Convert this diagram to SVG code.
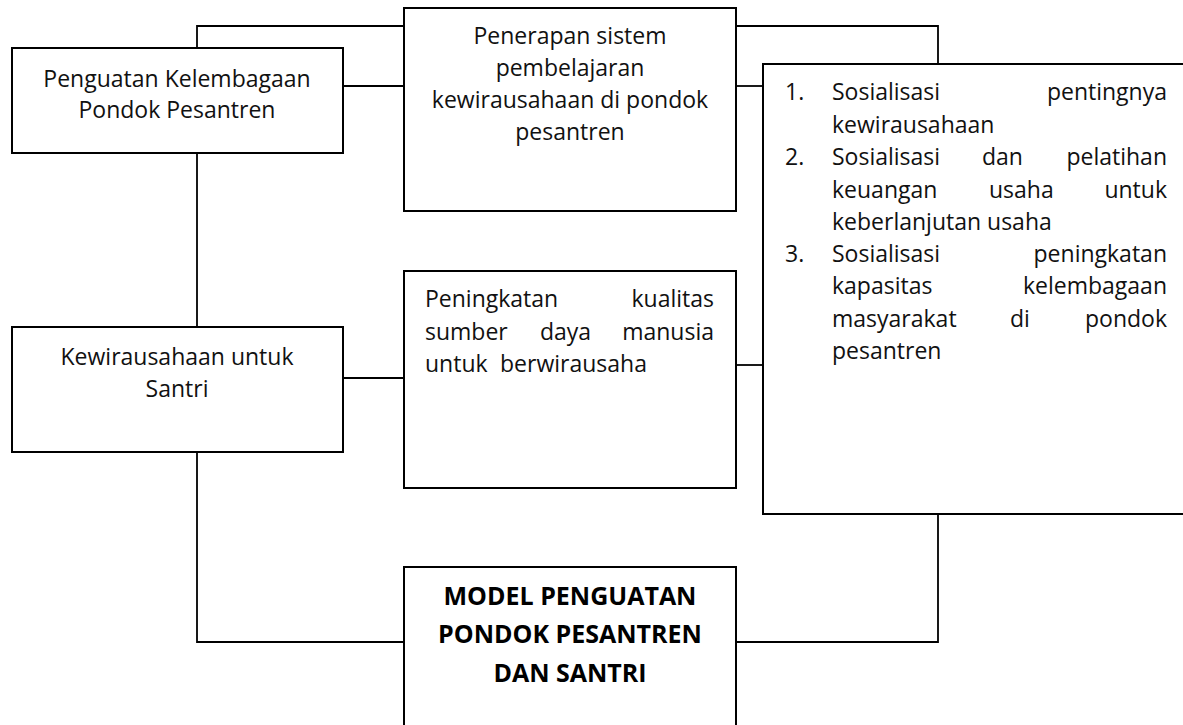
<svg xmlns="http://www.w3.org/2000/svg" width="1183" height="725" viewBox="0 0 1183 725">
<style>
  .box { fill: #ffffff; stroke: #000000; stroke-width: 2; }
  .conn { fill: none; stroke: #000000; stroke-width: 1.8; }
  .t { font-family: "Open Sans", "Noto Sans", "Liberation Sans", sans-serif; font-size: 23px; fill: #111111; }
  .c { text-anchor: middle; }
  .e { text-anchor: end; }
  .b { font-family: "Open Sans", "Noto Sans", "Liberation Sans", sans-serif; font-size: 25px; font-weight: bold; fill: #000000; text-anchor: middle; }
</style>
<rect width="1183" height="725" fill="#ffffff"/>
<g id="connectors">
  <path class="conn" d="M197,48 V26 H404"/>
  <path class="conn" d="M343,86 H404"/>
  <path class="conn" d="M736,26 H938 V64"/>
  <path class="conn" d="M736,86 H763"/>
  <path class="conn" d="M197,153 V327"/>
  <path class="conn" d="M343,378 H404"/>
  <path class="conn" d="M736,365 H763"/>
  <path class="conn" d="M197,452 V642 H404"/>
  <path class="conn" d="M736,642 H938 V514"/>
</g>
<g id="node-penguatan-kelembagaan">
  <rect class="box" x="12" y="48" width="331" height="105"/>
  <text class="t c" x="177" y="87">Penguatan Kelembagaan</text>
  <text class="t c" x="177" y="118">Pondok Pesantren</text>
</g>
<g id="node-penerapan-sistem">
  <rect class="box" x="404" y="8" width="332" height="203"/>
  <text class="t c" x="570" y="44">Penerapan sistem</text>
  <text class="t c" x="570" y="76">pembelajaran</text>
  <text class="t c" x="570" y="108">kewirausahaan di pondok</text>
  <text class="t c" x="570" y="140">pesantren</text>
</g>
<g id="node-kewirausahaan-santri">
  <rect class="box" x="12" y="327" width="331" height="125"/>
  <text class="t c" x="177" y="365">Kewirausahaan untuk</text>
  <text class="t c" x="177" y="397">Santri</text>
</g>
<g id="node-peningkatan-kualitas">
  <rect class="box" x="404" y="271" width="332" height="217"/>
  <text class="t" x="425" y="307">Peningkatan</text>
  <text class="t e" x="714" y="307">kualitas</text>
  <text class="t" x="425" y="340">sumber</text>
  <text class="t" x="540" y="340">daya</text>
  <text class="t e" x="714" y="340">manusia</text>
  <text class="t" x="425" y="372">untuk</text>
  <text class="t" x="500" y="372">berwirausaha</text>
</g>
<g id="node-sosialisasi-list">
  <rect class="box" x="763" y="64" width="424" height="450"/>
  <text class="t" x="785" y="100">1.</text>
  <text class="t" x="832" y="100">Sosialisasi</text>
  <text class="t e" x="1167" y="100">pentingnya</text>
  <text class="t" x="832" y="133">kewirausahaan</text>
  <text class="t" x="785" y="165">2.</text>
  <text class="t" x="832" y="165">Sosialisasi</text>
  <text class="t" x="982" y="165">dan</text>
  <text class="t e" x="1167" y="165">pelatihan</text>
  <text class="t" x="832" y="198">keuangan</text>
  <text class="t" x="989" y="198">usaha</text>
  <text class="t e" x="1167" y="198">untuk</text>
  <text class="t" x="832" y="230">keberlanjutan usaha</text>
  <text class="t" x="785" y="262">3.</text>
  <text class="t" x="832" y="262">Sosialisasi</text>
  <text class="t e" x="1167" y="262">peningkatan</text>
  <text class="t" x="832" y="294">kapasitas</text>
  <text class="t e" x="1167" y="294">kelembagaan</text>
  <text class="t" x="832" y="327">masyarakat</text>
  <text class="t" x="1010" y="327">di</text>
  <text class="t e" x="1167" y="327">pondok</text>
  <text class="t" x="832" y="359">pesantren</text>
</g>
<g id="node-model-penguatan">
  <rect class="box" x="404" y="567" width="332" height="170"/>
  <text class="b" x="570" y="605">MODEL PENGUATAN</text>
  <text class="b" x="570" y="643">PONDOK PESANTREN</text>
  <text class="b" x="570" y="682">DAN SANTRI</text>
</g>
</svg>
